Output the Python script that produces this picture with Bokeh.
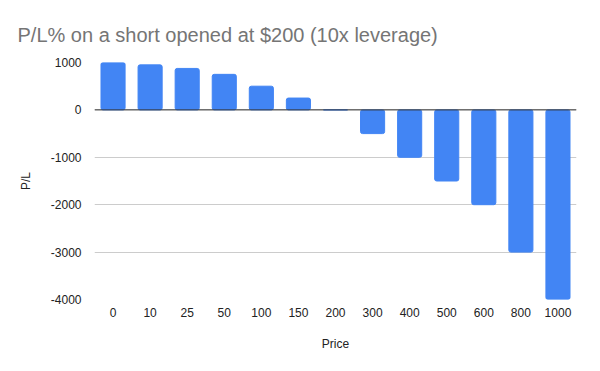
from bokeh.plotting import figure
from bokeh.models import FixedTicker, Span, Range1d, FactorRange
from bokeh.embed import file_html
from bokeh.resources import INLINE

prices = ["0", "10", "25", "50", "100", "150", "200", "300", "400", "500", "600", "800", "1000"]
pl = [1000, 950, 875, 750, 500, 250, 0, -500, -1000, -1500, -2000, -3000, -4000]
y_ticks = [-4000, -3000, -2000, -1000, 0, 1000]
y_tick_labels = ["-4000", "-3000", "-2000", "-1000", "0", "1000"]
title_text = "P/L% on a short opened at $200 (10x leverage)"

W, H = 598, 368
p = figure(width=W, height=H, x_range=FactorRange(*prices, range_padding=0),
           y_range=Range1d(-4000, 1000), output_backend="svg", toolbar_location=None,
           min_border_left=94, min_border_right=22, min_border_top=62, min_border_bottom=69)

p.title.text = title_text
p.title.text_font = "Liberation Sans"
p.title.text_font_size = "20px"
p.title.text_font_style = "normal"
p.title.text_color = "#757575"
p.title.align = "left"
p.title.offset = -77
p.title.standoff = 30
p.title.vertical_align = "top"

p.vbar(x=prices, top=pl, bottom=0, width=0.65, color="#4285F4", border_radius=2)

p.outline_line_color = None
p.xgrid.grid_line_color = None
p.ygrid.grid_line_color = "#cccccc"
p.ygrid.ticker = FixedTicker(ticks=y_ticks)
p.yaxis.ticker = FixedTicker(ticks=y_ticks)
p.yaxis.major_label_overrides = dict(zip(y_ticks, y_tick_labels))
p.add_layout(Span(location=0, dimension="width", line_color="#333333", line_width=1))

for ax in (p.xaxis[0], p.yaxis[0]):
    ax.axis_line_color = None
    ax.major_tick_line_color = None
    ax.minor_tick_line_color = None
    ax.major_label_text_font = "Liberation Sans"
    ax.major_label_text_font_size = "12px"
    ax.major_label_text_color = "#222222"
    ax.axis_label_text_font = "Liberation Sans"
    ax.axis_label_text_font_size = "12px"
    ax.axis_label_text_font_style = "normal"
    ax.axis_label_text_color = "#222222"

p.xaxis.axis_label = "Price"
p.yaxis.axis_label = "P/L"
p.xaxis.major_label_standoff = 2
p.yaxis.major_label_standoff = 7
p.xaxis.axis_label_standoff = 17
p.yaxis.axis_label_standoff = 15

open("out.html", "w").write(file_html(p, INLINE))
